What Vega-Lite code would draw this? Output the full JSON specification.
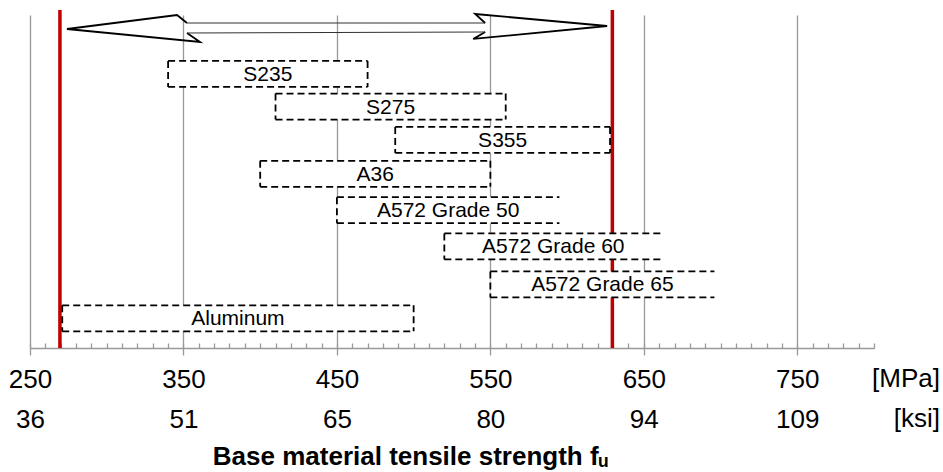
{
  "$schema": "https://vega.github.io/schema/vega-lite/v6.json",
  "width": 844,
  "height": 333,
  "autosize": "none",
  "padding": {"left": 30, "top": 15, "right": 69, "bottom": 124},
  "background": "white",
  "config": {"view": {"stroke": null}, "font": "Liberation Sans"},
  "datasets": {
    "boxes": [
      {"steel": "S235", "lo": 340, "hi": 470, "level": 82.3, "open": false},
      {"steel": "S275", "lo": 410, "hi": 560, "level": 72.5, "open": false},
      {"steel": "S355", "lo": 488, "hi": 628, "level": 62.5, "open": false},
      {"steel": "A36", "lo": 400, "hi": 550, "level": 52.3, "open": false},
      {"steel": "A572 Grade 50", "lo": 450, "hi": 595, "level": 41.4, "open": true},
      {"steel": "A572 Grade 60", "lo": 520, "hi": 662, "level": 30.5, "open": true},
      {"steel": "A572 Grade 65", "lo": 550, "hi": 696, "level": 19.1, "open": true},
      {"steel": "Aluminum", "lo": 271, "hi": 500, "level": 8.9, "open": false}
    ],
    "limits": [
      {"fu": 269.5, "top": 101.5, "bottom": 0},
      {"fu": 629.5, "top": 101.5, "bottom": 0}
    ],
    "units": [
      {"fu": 843, "unit": ["[MPa]", "[ksi]"]}
    ],
    "arrow": [
      {"part": "headL", "i": 1, "fu": 352.3, "level": 97.6},
      {"part": "headL", "i": 2, "fu": 345.8, "level": 100.0},
      {"part": "headL", "i": 3, "fu": 274.1, "level": 95.8},
      {"part": "headL", "i": 4, "fu": 360.8, "level": 91.9},
      {"part": "headL", "i": 5, "fu": 352.3, "level": 94.6},
      {"part": "headR", "i": 1, "fu": 546.6, "level": 97.6},
      {"part": "headR", "i": 2, "fu": 540.1, "level": 100.3},
      {"part": "headR", "i": 3, "fu": 626.1, "level": 96.7},
      {"part": "headR", "i": 4, "fu": 538.8, "level": 92.8},
      {"part": "headR", "i": 5, "fu": 546.6, "level": 94.9},
      {"part": "shaftT", "i": 1, "fu": 352.3, "level": 97.6},
      {"part": "shaftT", "i": 2, "fu": 546.6, "level": 97.6},
      {"part": "shaftB", "i": 1, "fu": 352.3, "level": 94.6},
      {"part": "shaftB", "i": 2, "fu": 546.6, "level": 94.9}
    ]
  },
  "resolve": {"axis": {"x": "independent"}},
  "layer": [
    {
      "data": {"name": "limits"},
      "mark": {"type": "rule", "color": "#C00000", "strokeWidth": 3.5},
      "encoding": {
        "x": {
          "field": "fu", "type": "quantitative",
          "scale": {"domain": [250, 800], "nice": false, "zero": false},
          "axis": {
            "orient": "bottom",
            "values": [250, 350, 450, 550, 650, 750],
            "grid": true, "gridColor": "#999999", "gridWidth": 1.3,
            "domain": true, "domainColor": "#999999", "domainWidth": 1.3,
            "ticks": true, "tickColor": "#999999", "tickWidth": 1.3, "tickSize": 7,
            "labelFont": "Liberation Sans", "labelFontSize": 26, "labelColor": "black",
            "labelExpr": "[datum.label, format(datum.value / 6.895, '.0f')]",
            "labelLineHeight": 40, "labelPadding": 11,
            "labelFlush": false, "labelOverlap": false,
            "title": "Base material tensile strength fᵤ",
            "titleFont": "Liberation Sans", "titleFontSize": 26, "titleFontWeight": "bold",
            "titleColor": "black", "titleX": 380, "titleY": 116,
            "titleAlign": "center", "titleBaseline": "alphabetic"
          }
        },
        "y": {"field": "top", "type": "quantitative", "scale": {"domain": [0, 100], "nice": false, "zero": false}, "axis": null},
        "y2": {"field": "bottom"}
      }
    },
    {
      "data": {"name": "boxes"},
      "mark": {"type": "rect", "fill": "white", "yOffset": -13, "y2Offset": 13},
      "encoding": {
        "x": {
          "field": "lo", "type": "quantitative",
          "axis": {
            "orient": "bottom",
            "values": [250, 260, 270, 280, 290, 300, 310, 320, 330, 340, 350, 360, 370, 380, 390, 400, 410, 420, 430, 440, 450, 460, 470, 480, 490, 500, 510, 520, 530, 540, 550, 560, 570, 580, 590, 600, 610, 620, 630, 640, 650, 660, 670, 680, 690, 700, 710, 720, 730, 740, 750, 760, 770, 780, 790, 800],
            "grid": false, "domain": false, "labels": false,
            "ticks": true, "tickSize": -5, "tickColor": "#999999", "tickWidth": 1.3,
            "title": null
          }
        },
        "x2": {"field": "hi"},
        "y": {"field": "level", "type": "quantitative", "axis": null},
        "y2": {"field": "level"}
      }
    },
    {
      "data": {"name": "boxes"},
      "mark": {"type": "rule", "color": "black", "strokeWidth": 1.8, "strokeDash": [7, 4], "yOffset": -13},
      "encoding": {
        "x": {"field": "lo", "type": "quantitative", "axis": null},
        "x2": {"field": "hi"},
        "y": {"field": "level", "type": "quantitative", "axis": null}
      }
    },
    {
      "data": {"name": "boxes"},
      "mark": {"type": "rule", "color": "black", "strokeWidth": 1.8, "strokeDash": [7, 4], "yOffset": 13},
      "encoding": {
        "x": {"field": "lo", "type": "quantitative", "axis": null},
        "x2": {"field": "hi"},
        "y": {"field": "level", "type": "quantitative", "axis": null}
      }
    },
    {
      "data": {"name": "boxes"},
      "mark": {"type": "rule", "color": "black", "strokeWidth": 1.8, "strokeDash": [7, 4], "yOffset": -13, "y2Offset": 13},
      "encoding": {
        "x": {"field": "lo", "type": "quantitative", "axis": null},
        "y": {"field": "level", "type": "quantitative", "axis": null},
        "y2": {"field": "level"}
      }
    },
    {
      "data": {"name": "boxes"},
      "transform": [{"filter": "!datum.open"}],
      "mark": {"type": "rule", "color": "black", "strokeWidth": 1.8, "strokeDash": [7, 4], "yOffset": -13, "y2Offset": 13},
      "encoding": {
        "x": {"field": "hi", "type": "quantitative", "axis": null},
        "y": {"field": "level", "type": "quantitative", "axis": null},
        "y2": {"field": "level"}
      }
    },
    {
      "data": {"name": "boxes"},
      "transform": [{"calculate": "(datum.lo + datum.hi) / 2", "as": "mid"}],
      "mark": {"type": "text", "font": "Liberation Sans", "fontSize": 21, "color": "black", "align": "center", "baseline": "middle", "dy": 1},
      "encoding": {
        "x": {"field": "mid", "type": "quantitative", "axis": null},
        "y": {"field": "level", "type": "quantitative", "axis": null},
        "text": {"field": "steel"}
      }
    },
    {
      "data": {"name": "units"},
      "mark": {"type": "text", "font": "Liberation Sans", "fontSize": 26, "color": "black", "align": "right", "baseline": "top", "dy": 18, "lineHeight": 40, "clip": false},
      "encoding": {
        "x": {"field": "fu", "type": "quantitative", "axis": null},
        "y": {"datum": 0, "type": "quantitative", "axis": null},
        "text": {"field": "unit"}
      }
    },
    {
      "data": {"name": "arrow"},
      "transform": [{"filter": "indexof(datum.part, 'head') === 0"}],
      "mark": {"type": "line", "color": "black", "strokeWidth": 1.8, "strokeJoin": "miter"},
      "encoding": {
        "x": {"field": "fu", "type": "quantitative", "axis": null},
        "y": {"field": "level", "type": "quantitative", "axis": null},
        "detail": {"field": "part"},
        "order": {"field": "i"}
      }
    },
    {
      "data": {"name": "arrow"},
      "transform": [{"filter": "indexof(datum.part, 'shaft') === 0"}],
      "mark": {"type": "line", "color": "#333333", "strokeWidth": 1.2},
      "encoding": {
        "x": {"field": "fu", "type": "quantitative", "axis": null},
        "y": {"field": "level", "type": "quantitative", "axis": null},
        "detail": {"field": "part"},
        "order": {"field": "i"}
      }
    }
  ]
}
